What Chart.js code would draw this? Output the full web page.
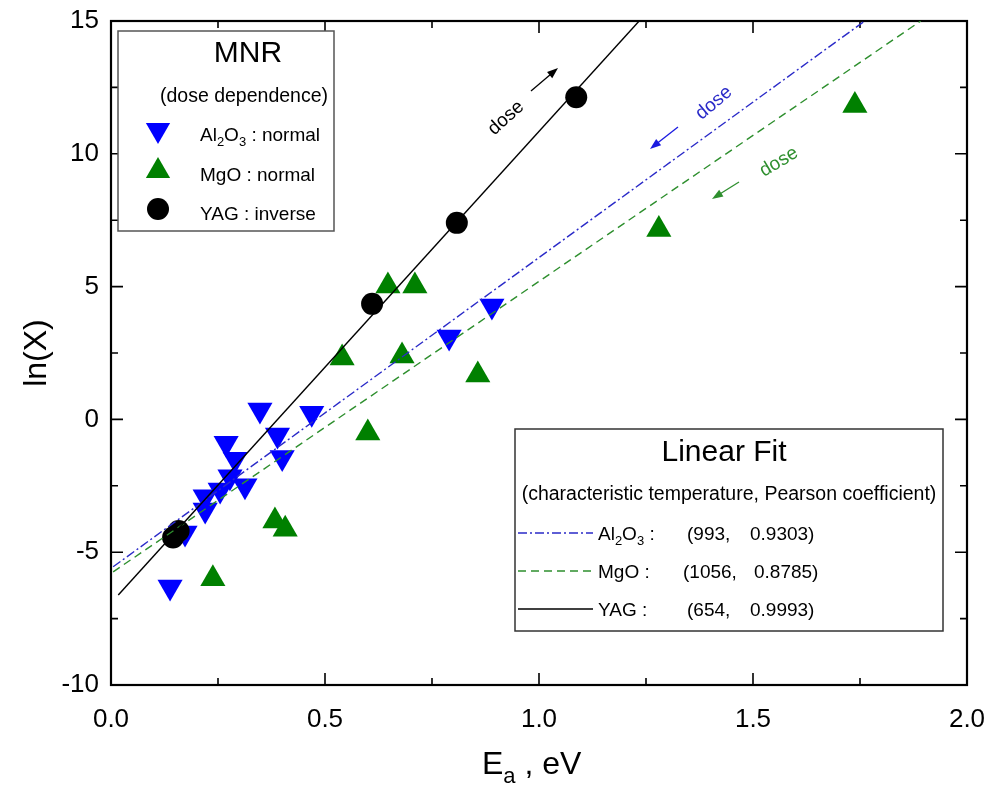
<!DOCTYPE html>
<html>
<head>
<meta charset="utf-8">
<script src="https://cdn.jsdelivr.net/npm/chart.js@4.4.1/dist/chart.umd.min.js"></script>
<style>
    html, body { margin: 0; padding: 0; background: #ffffff; }
    canvas { display: block; }
</style>
</head>
<body>
<canvas id="grafico" width="990" height="787"></canvas>
<script>
const FONTE = 'Arial, "Liberation Sans", sans-serif';

// Al2O3 (triângulos azuis para baixo)
const al2o3X = [0.348, 0.469, 0.389, 0.400, 0.269, 0.290, 0.278, 0.313, 0.255, 0.220, 0.220, 0.173, 0.138, 0.790, 0.890];
const al2o3Y = [0.35, 0.23, -0.59, -1.43, -0.90, -1.50, -2.16, -2.50, -2.66, -2.91, -3.41, -4.28, -6.31, 3.10, 4.27];

// MgO (triângulos verdes)
const mgoX = [0.647, 0.710, 0.540, 0.680, 0.857, 0.600, 0.383, 0.407, 0.238, 1.280, 1.738];
const mgoY = [5.02, 5.02, 2.31, 2.39, 1.67, -0.51, -3.83, -4.14, -6.00, 7.15, 11.82];

// YAG (círculos pretos)
const yagX = [0.145, 0.158, 0.610, 0.808, 1.087];
const yagY = [-4.45, -4.20, 4.35, 7.40, 12.13];

// Extremos das retas de ajuste
const al2o3AjusteX = [0.005, 1.761];
const al2o3AjusteY = [-5.55, 15];
const mgoAjusteX = [0.005, 1.892];
const mgoAjusteY = [-5.74, 15];
const yagAjusteX = [0.017, 1.234];
const yagAjusteY = [-6.61, 15];

// Legenda do ajuste: temperatura característica e coeficiente de Pearson
const ajusteNomes = ['Al2O3', 'MgO', 'YAG'];
const ajusteTemperaturas = ['993', '1056', '654'];
const ajustePearson = ['0.9303', '0.8785', '0.9993'];

const AZUL = '#0000ff';
const VERDE = '#008000';
const AZUL_LINHA = '#2a2ac8';
const VERDE_LINHA = '#2e8f2e';

function pares(xs, ys) {
    return xs.map((x, i) => ({ x: x, y: ys[i] }));
}

// Desenha um marcador igual aos pontos do Chart.js
function marcador(ctx, tipo, x, y, r, rot, cor) {
    ctx.save();
    ctx.fillStyle = cor;
    ctx.beginPath();
    if (tipo === 'circle') {
        ctx.arc(x, y, r, 0, Math.PI * 2);
    } else {
        let rad = rot * Math.PI / 180;
        ctx.moveTo(x + Math.sin(rad) * r, y - Math.cos(rad) * r);
        rad += 2 * Math.PI / 3;
        ctx.lineTo(x + Math.sin(rad) * r, y - Math.cos(rad) * r);
        rad += 2 * Math.PI / 3;
        ctx.lineTo(x + Math.sin(rad) * r, y - Math.cos(rad) * r);
        ctx.closePath();
    }
    ctx.fill();
    ctx.restore();
}

// Texto com subscritos: partes = [[texto, subscrito?], ...]
function textoRico(ctx, partes, x, base, tam, cor) {
    ctx.save();
    ctx.fillStyle = cor;
    ctx.textAlign = 'left';
    ctx.textBaseline = 'alphabetic';
    let cx = x;
    partes.forEach(p => {
        const sub = p[1];
        const t = sub ? Math.round(tam * 0.68) : tam;
        ctx.font = t + 'px ' + FONTE;
        ctx.fillText(p[0], cx, base + (sub ? tam * 0.28 : 0));
        cx += ctx.measureText(p[0]).width;
    });
    ctx.restore();
    return cx;
}

function partesFormula(nome) {
    if (nome === 'Al2O3') return [['Al'], ['2', true], ['O'], ['3', true]];
    return [[nome]];
}

function textoRotacionado(ctx, txt, cx, cy, ang, cor, tam) {
    ctx.save();
    ctx.translate(cx, cy);
    ctx.rotate(ang * Math.PI / 180);
    ctx.fillStyle = cor;
    ctx.font = tam + 'px ' + FONTE;
    ctx.textAlign = 'center';
    ctx.textBaseline = 'middle';
    ctx.fillText(txt, 0, 0);
    ctx.restore();
}

function seta(ctx, x1, y1, x2, y2, cor) {
    const ang = Math.atan2(y2 - y1, x2 - x1);
    const comp = 11, larg = 4;
    ctx.save();
    ctx.strokeStyle = cor;
    ctx.fillStyle = cor;
    ctx.lineWidth = 1.3;
    ctx.beginPath();
    ctx.moveTo(x1, y1);
    ctx.lineTo(x2 - Math.cos(ang) * comp * 0.8, y2 - Math.sin(ang) * comp * 0.8);
    ctx.stroke();
    ctx.beginPath();
    ctx.moveTo(x2, y2);
    ctx.lineTo(x2 - Math.cos(ang) * comp - Math.sin(ang) * larg, y2 - Math.sin(ang) * comp + Math.cos(ang) * larg);
    ctx.lineTo(x2 - Math.cos(ang) * comp + Math.sin(ang) * larg, y2 - Math.sin(ang) * comp - Math.cos(ang) * larg);
    ctx.closePath();
    ctx.fill();
    ctx.restore();
}

// Zera o recuo que o Chart.js reserva para os rótulos das pontas
function fixarEixo(s, prop, valor) {
    s[prop] = valor;
    s.paddingTop = 0;
    s.paddingBottom = 0;
    s.paddingLeft = 0;
    s.paddingRight = 0;
}

// Moldura do gráfico com marcas internas nos quatro lados
const molduraPlugin = {
    id: 'moldura',
    beforeDatasetsDraw(chart) {
        const { ctx, chartArea: a, scales: { x, y } } = chart;
        const xMaiores = x.ticks.map(t => t.value);
        const yMaiores = y.ticks.map(t => t.value);
        const meios = v => v.slice(1).map((m, i) => (m + v[i]) / 2);
        ctx.save();
        ctx.strokeStyle = '#000';
        ctx.lineWidth = 1.6;
        ctx.beginPath();
        const marcaX = (v, len) => {
            const px = x.getPixelForValue(v);
            ctx.moveTo(px, a.bottom); ctx.lineTo(px, a.bottom - len);
            ctx.moveTo(px, a.top); ctx.lineTo(px, a.top + len);
        };
        const marcaY = (v, len) => {
            const py = y.getPixelForValue(v);
            ctx.moveTo(a.left, py); ctx.lineTo(a.left + len, py);
            ctx.moveTo(a.right, py); ctx.lineTo(a.right - len, py);
        };
        xMaiores.forEach(v => marcaX(v, 12));
        meios(xMaiores).forEach(v => marcaX(v, 7));
        yMaiores.forEach(v => marcaY(v, 12));
        meios(yMaiores).forEach(v => marcaY(v, 7));
        ctx.stroke();
        ctx.lineWidth = 2.2;
        ctx.strokeRect(a.left, a.top, a.right - a.left, a.bottom - a.top);
        ctx.restore();
    },
    afterDraw(chart) {
        const ctx = chart.ctx;

        // Títulos dos eixos
        ctx.save();
        ctx.translate(37, 353);
        ctx.rotate(-Math.PI / 2);
        ctx.fillStyle = '#000';
        ctx.font = '32px ' + FONTE;
        ctx.textAlign = 'center';
        ctx.textBaseline = 'middle';
        ctx.fillText('ln(X)', 0, 0);
        ctx.restore();
        textoRico(ctx, [['E'], ['a', true], [' , eV']], 482, 774, 32, '#000');

        // Anotações de dose
        textoRotacionado(ctx, 'dose', 506, 118, -42, '#000', 19);
        seta(ctx, 531, 91, 558, 68, '#000');
        textoRotacionado(ctx, 'dose', 714, 103, -40, AZUL_LINHA, 19);
        seta(ctx, 678, 127, 650, 149, '#1a1ae0');
        textoRotacionado(ctx, 'dose', 779, 162, -31, VERDE_LINHA, 19);
        seta(ctx, 739, 182, 712, 199, VERDE_LINHA);

        // Caixa MNR
        ctx.save();
        ctx.fillStyle = '#fff';
        ctx.fillRect(118, 31, 216, 200);
        ctx.strokeStyle = '#555';
        ctx.lineWidth = 1.5;
        ctx.strokeRect(118, 31, 216, 200);
        ctx.fillStyle = '#000';
        ctx.font = '30px ' + FONTE;
        ctx.textAlign = 'center';
        ctx.textBaseline = 'middle';
        ctx.fillText('MNR', 248, 54);
        ctx.font = '19.5px ' + FONTE;
        ctx.fillText('(dose dependence)', 244, 97);
        ctx.restore();
        marcador(ctx, 'triangle', 158, 130, 14, 180, AZUL);
        textoRico(ctx, partesFormula('Al2O3').concat([[' : normal']]), 200, 141, 19, '#000');
        marcador(ctx, 'triangle', 158, 171, 14, 0, VERDE);
        textoRico(ctx, [['MgO : normal']], 200, 181, 19, '#000');
        marcador(ctx, 'circle', 158, 209, 11, 0, '#000');
        textoRico(ctx, [['YAG : inverse']], 200, 220, 19, '#000');

        // Caixa do ajuste linear
        ctx.save();
        ctx.fillStyle = '#fff';
        ctx.fillRect(515, 429, 428, 202);
        ctx.strokeStyle = '#333';
        ctx.lineWidth = 1.5;
        ctx.strokeRect(515, 429, 428, 202);
        ctx.fillStyle = '#000';
        ctx.font = '30px ' + FONTE;
        ctx.textAlign = 'center';
        ctx.textBaseline = 'middle';
        ctx.fillText('Linear Fit', 724, 453);
        ctx.font = '19.5px ' + FONTE;
        ctx.fillText('(characteristic temperature, Pearson coefficient)', 729, 495);
        ctx.restore();

        const estilos = [
            { cor: AZUL_LINHA, dash: [9, 3, 2, 3] },
            { cor: VERDE_LINHA, dash: [8, 5] },
            { cor: '#000', dash: [] }
        ];
        const linhasY = [533, 571, 609];
        ajusteNomes.forEach((nome, i) => {
            const ly = linhasY[i];
            ctx.save();
            ctx.strokeStyle = estilos[i].cor;
            ctx.lineWidth = 1.4;
            ctx.setLineDash(estilos[i].dash);
            ctx.beginPath();
            ctx.moveTo(518, ly);
            ctx.lineTo(593, ly);
            ctx.stroke();
            ctx.restore();
            textoRico(ctx, partesFormula(nome).concat([[' :']]), 598, ly + 7, 19, '#000');
            const xTemp = ajusteTemperaturas[i].length > 3 ? 683 : 687;
            textoRico(ctx, [['(' + ajusteTemperaturas[i] + ',']], xTemp, ly + 7, 19, '#000');
            textoRico(ctx, [[ajustePearson[i] + ')']], ajusteTemperaturas[i].length > 3 ? 754 : 750, ly + 7, 19, '#000');
        });
    }
};

const ctx = document.getElementById('grafico').getContext('2d');

new Chart(ctx, {
    type: 'scatter',
    data: {
        datasets: [
            {
                label: 'YAG ajuste',
                type: 'line',
                data: pares(yagAjusteX, yagAjusteY),
                borderColor: '#000',
                borderWidth: 1.4,
                pointRadius: 0,
                fill: false,
                order: 1
            },
            {
                label: 'Al2O3 ajuste',
                type: 'line',
                data: pares(al2o3AjusteX, al2o3AjusteY),
                borderColor: AZUL_LINHA,
                borderWidth: 1.4,
                borderDash: [9, 3, 2, 3],
                pointRadius: 0,
                fill: false,
                order: 2
            },
            {
                label: 'MgO ajuste',
                type: 'line',
                data: pares(mgoAjusteX, mgoAjusteY),
                borderColor: VERDE_LINHA,
                borderWidth: 1.4,
                borderDash: [8, 5],
                pointRadius: 0,
                fill: false,
                order: 3
            },
            {
                label: 'YAG',
                data: pares(yagX, yagY),
                pointStyle: 'circle',
                pointRadius: 11,
                backgroundColor: '#000',
                borderColor: '#000',
                borderWidth: 0,
                order: 4
            },
            {
                label: 'Al2O3',
                data: pares(al2o3X, al2o3Y),
                pointStyle: 'triangle',
                rotation: 180,
                pointRadius: 14.5,
                backgroundColor: AZUL,
                borderColor: AZUL,
                borderWidth: 0,
                order: 5
            },
            {
                label: 'MgO',
                data: pares(mgoX, mgoY),
                pointStyle: 'triangle',
                pointRadius: 14.5,
                backgroundColor: VERDE,
                borderColor: VERDE,
                borderWidth: 0,
                order: 6
            }
        ]
    },
    options: {
        responsive: false,
        animation: false,
        devicePixelRatio: 1,
        layout: { padding: { top: 21, right: 23, left: 0, bottom: 0 } },
        plugins: {
            legend: { display: false },
            tooltip: { enabled: false }
        },
        scales: {
            x: {
                type: 'linear',
                min: 0,
                max: 2,
                grid: { display: false, drawTicks: false },
                border: { display: false },
                ticks: {
                    stepSize: 0.5,
                    color: '#000',
                    padding: 19,
                    font: { size: 26, family: FONTE },
                    callback: v => v.toFixed(1)
                },
                afterFit: s => fixarEixo(s, 'height', 787 - 685)
            },
            y: {
                type: 'linear',
                min: -10,
                max: 15,
                grid: { display: false, drawTicks: false },
                border: { display: false },
                ticks: {
                    stepSize: 5,
                    color: '#000',
                    padding: 12,
                    font: { size: 26, family: FONTE },
                    callback: v => String(v)
                },
                afterFit: s => fixarEixo(s, 'width', 111)
            }
        }
    },
    plugins: [molduraPlugin]
});
</script>
</body>
</html>
